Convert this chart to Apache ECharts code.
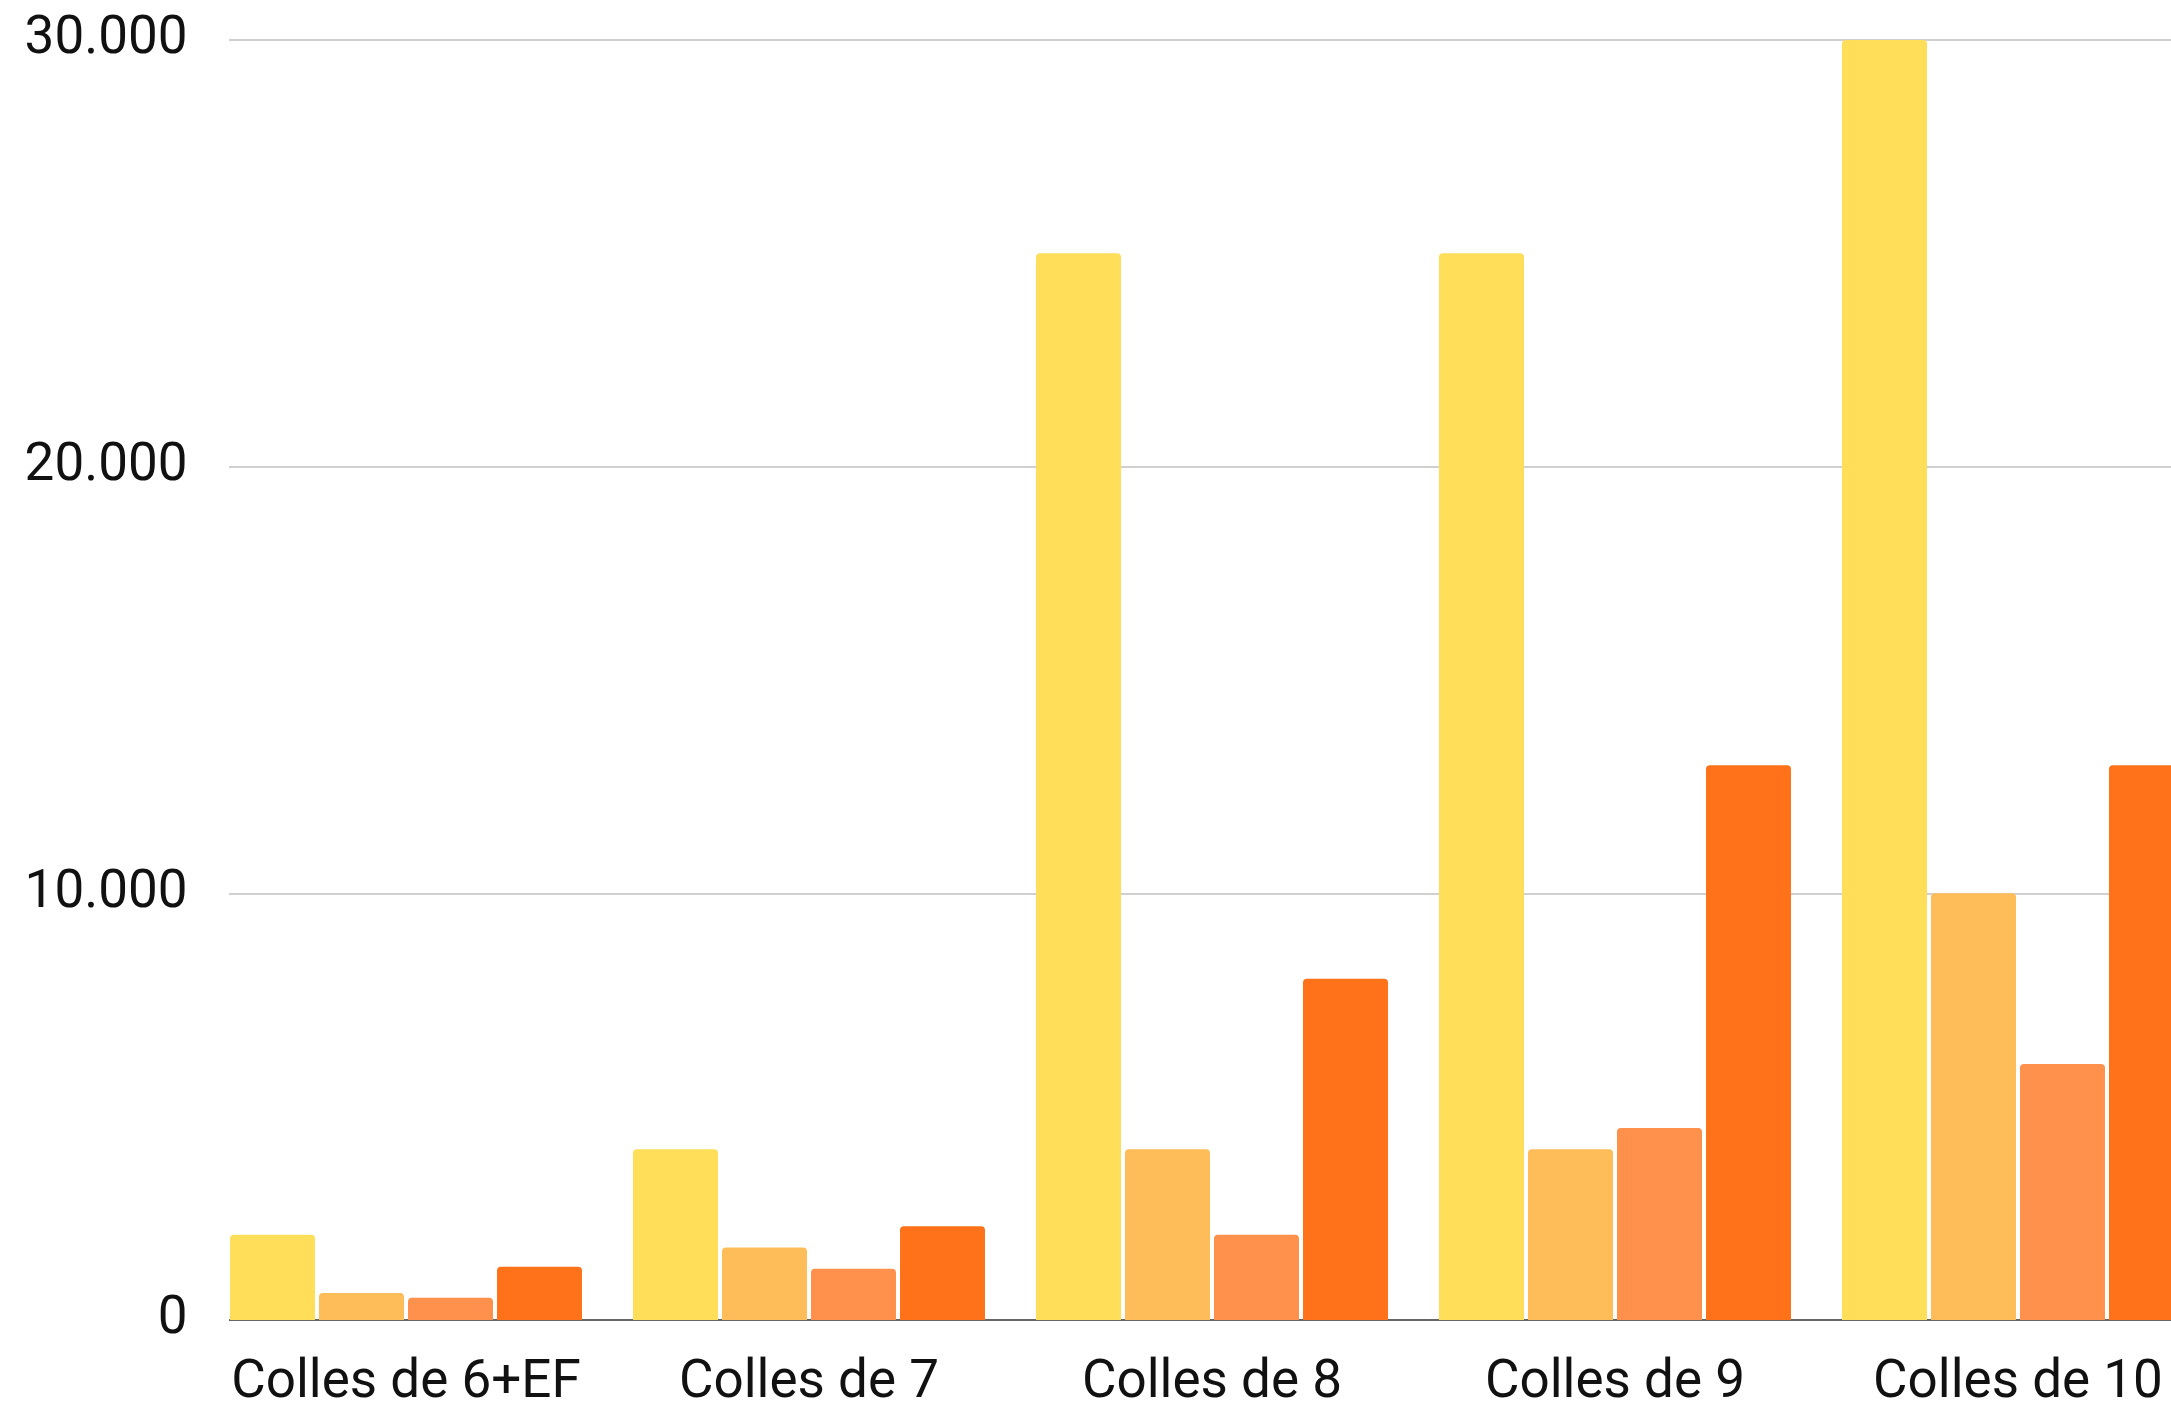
<!DOCTYPE html>
<html>
<head>
<meta charset="utf-8">
<script src="https://cdn.jsdelivr.net/npm/echarts@6/dist/echarts.min.js"></script>
<style>
  html, body { margin: 0; padding: 0; background: #fff; }
  #chart { width: 2171px; height: 1402px; }
</style>
</head>
<body>
<div id="chart"></div>
<script>
// categories and values
const categories = ['Colles de 6+EF', 'Colles de 7', 'Colles de 8', 'Colles de 9', 'Colles de 10']
const serieA = [2000, 4000, 25000, 25000, 30000]
const serieB = [630, 1700, 4000, 4000, 10000]
const serieC = [520, 1200, 2000, 4500, 6000]
const serieD = [1250, 2200, 8000, 13000, 13000]
const colors = ['#FFDE59', '#FEBD59', '#FF914D', '#FF721A']

window.onload = () => {
    let EC = echarts.init(document.getElementById('chart'))

    const bar = (data, i) => ({
        type: 'bar',
        data: data,
        barWidth: 85,
        barGap: '4.7%',
        itemStyle: {
            color: colors[i],
            borderRadius: [4, 4, 0, 0]
        }
    })

    let option = {
        backgroundColor: '#fff',
        animation: false,
        textStyle: { fontFamily: 'Roboto' },
        grid: {
            left: 204.5,
            top: 40,
            width: 2015,
            height: 1280,
            outerBoundsMode: 'none'
        },
        // hide gridline stubs left of the first bar
        graphic: [{
            type: 'rect',
            z: 1,
            shape: { x: 195, y: 20, width: 34, height: 1310 },
            style: { fill: '#fff' }
        }],
        xAxis: {
            type: 'category',
            data: categories,
            axisTick: { show: false },
            axisLine: { lineStyle: { color: '#666', width: 2 } },
            axisLabel: {
                interval: 0,
                color: '#111',
                fontSize: 53,
                margin: 37,
                fontFamily: 'Roboto'
            }
        },
        yAxis: {
            type: 'value',
            min: 0,
            max: 30000,
            interval: 10000,
            axisLine: { show: false },
            axisTick: { show: false },
            splitLine: { lineStyle: { color: '#c0c0c0', width: 1.5 } },
            axisLabel: {
                color: '#111',
                fontSize: 53,
                margin: 17,
                padding: [12, 0, 0, 0],
                fontFamily: 'Roboto',
                formatter: v => v === 0 ? '0' : (v / 1000) + '.000'
            }
        },
        series: [bar(serieA, 0), bar(serieB, 1), bar(serieC, 2), bar(serieD, 3)]
    }
    EC.setOption(option)
}
</script>
</body>
</html>
